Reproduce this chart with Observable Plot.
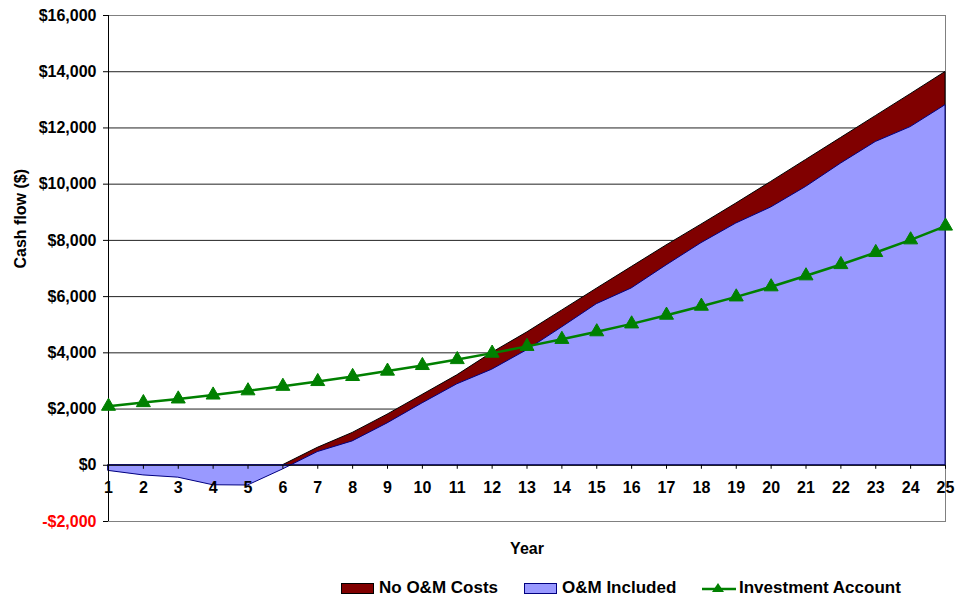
<!DOCTYPE html>
<html>
<head>
<meta charset="utf-8">
<script src="https://cdn.jsdelivr.net/npm/d3@7"></script>
<script src="https://cdn.jsdelivr.net/npm/@observablehq/plot@0.6"></script>
<style>
  html, body { margin: 0; padding: 0; background: #fff; overflow: hidden; }
  #chart { width: 955px; height: 598px; position: relative; font-family: "Liberation Sans", Arial, sans-serif; }
  #legend { position: relative; width: 955px; height: 30px; font-weight: bold; font-size: 17px; color: #000; }
  .item { position: absolute; top: 1px; height: 30px; display: flex; align-items: center; }
  .sw { width: 31px; height: 9px; margin-right: 5px; }
</style>
</head>
<body>
<div id="chart"></div>
<script>
// Project years
const years = [1, 2, 3, 4, 5, 6, 7, 8, 9, 10, 11, 12, 13, 14, 15, 16, 17, 18, 19, 20, 21, 22, 23, 24, 25];

// Cumulative cash flow without operations & maintenance costs ($)
const noOMCosts = [-60, -180, -230, -480, -430, 0, 620, 1150, 1800, 2500, 3200, 4000, 4720, 5500, 6280,
  7050, 7820, 8560, 9310, 10080, 10860, 11640, 12420, 13200, 13990];

// Cumulative cash flow with operations & maintenance costs included ($)
const omIncluded = [-200, -360, -440, -710, -720, -150, 470, 850, 1490, 2200, 2880, 3400, 4090, 4900, 5730,
  6290, 7110, 7900, 8600, 9170, 9900, 10730, 11500, 12030, 12810];

// Value of the alternative investment account ($)
const investmentAccount = [2100, 2230, 2360, 2500, 2650, 2810, 2980, 3160, 3350, 3550, 3760, 3990, 4230, 4480, 4750,
  5030, 5340, 5660, 5990, 6350, 6740, 7140, 7570, 8020, 8510];

// Y axis tick values
const yTicks = [-2000, 0, 2000, 4000, 6000, 8000, 10000, 12000, 14000, 16000];
const gridTicks = [2000, 4000, 6000, 8000, 10000, 12000, 14000];

const rows = years.map((year, i) => ({
  year,
  noOM: noOMCosts[i],
  om: omIncluded[i],
  invest: investmentAccount[i]
}));

const money = d => (d < 0 ? "-" : "") + "$" + d3.format(",")(Math.abs(d));
const FONT = "Liberation Sans, Arial, sans-serif";

const plot = Plot.plot({
  width: 955,
  height: 572,
  marginLeft: 108,
  marginRight: 10,
  marginTop: 15,
  marginBottom: 51,
  style: { fontFamily: FONT, background: "#fff", overflow: "visible" },
  x: { type: "linear", domain: [1, 25], axis: null },
  y: { domain: [-2000, 16000], axis: null },
  marks: [
    // horizontal gridlines
    Plot.ruleY(gridTicks, { stroke: "#222", strokeWidth: 1 }),
    // plot area border
    Plot.frame({ stroke: "#808080", strokeWidth: 1 }),
    // cash flow areas
    Plot.areaY(rows, { x: "year", y: "noOM", fill: "#800000", stroke: "#000", strokeWidth: 1, curve: "linear" }),
    Plot.areaY(rows, { x: "year", y: "om", fill: "#9999ff", stroke: "#000080", strokeWidth: 1, curve: "linear" }),
    // zero line acting as the category axis
    Plot.ruleY([0], { stroke: "#000", strokeWidth: 1 }),
    Plot.ruleX(years, { x: d => d, y1: 0, y2: 0, insetBottom: -4, stroke: "#000" }),
    Plot.text(years, {
      x: d => d, y: 0, dy: 23, text: d => String(d),
      fontSize: 16, fontWeight: "bold", fill: "#000", textAnchor: "middle"
    }),
    // value axis line, ticks and labels
    Plot.ruleX([1], { stroke: "#000", strokeWidth: 1 }),
    Plot.axisY(yTicks, { tickSize: 5, tickFormat: () => "", stroke: "#000" }),
    Plot.text(yTicks, {
      y: d => d, frameAnchor: "left", dx: -12, textAnchor: "end", text: money,
      fontSize: 16, fontWeight: "bold", fill: d => (d < 0 ? "#ff0000" : "#000")
    }),
    // axis titles
    Plot.text(["Year"], { frameAnchor: "bottom", dy: 32, text: d => d, fontSize: 16, fontWeight: "bold", fill: "#000" }),
    Plot.text(["Cash flow ($)"], { frameAnchor: "left", dx: -88, rotate: -90, text: d => d, fontSize: 16, fontWeight: "bold", fill: "#000" }),
    // investment account series
    Plot.line(rows, { x: "year", y: "invest", stroke: "#008000", strokeWidth: 2.5 }),
    Plot.dot(rows, { x: "year", y: "invest", symbol: "triangle", r: 5.2, fill: "#008000", stroke: "#008000", strokeWidth: 1 })
  ]
});

const chart = document.getElementById("chart");
chart.appendChild(plot);

// Legend row below the chart
const legend = document.createElement("div");
legend.id = "legend";
legend.innerHTML = `
  <div class="item" style="left:341px"><span class="sw" style="background:#800000;border:1px solid #000"></span>No O&amp;M Costs</div>
  <div class="item" style="left:524px"><span class="sw" style="background:#9999ff;border:1px solid #000080"></span>O&amp;M Included</div>
  <div class="item" style="left:702px">
    <svg width="34" height="14" style="margin-right:3px"><line x1="0" y1="8" x2="34" y2="8" stroke="#008000" stroke-width="2.5"/><path d="M16,2 L22,11 L10,11 Z" fill="#008000"/></svg>Investment Account</div>`;
chart.appendChild(legend);
</script>
</body>
</html>
